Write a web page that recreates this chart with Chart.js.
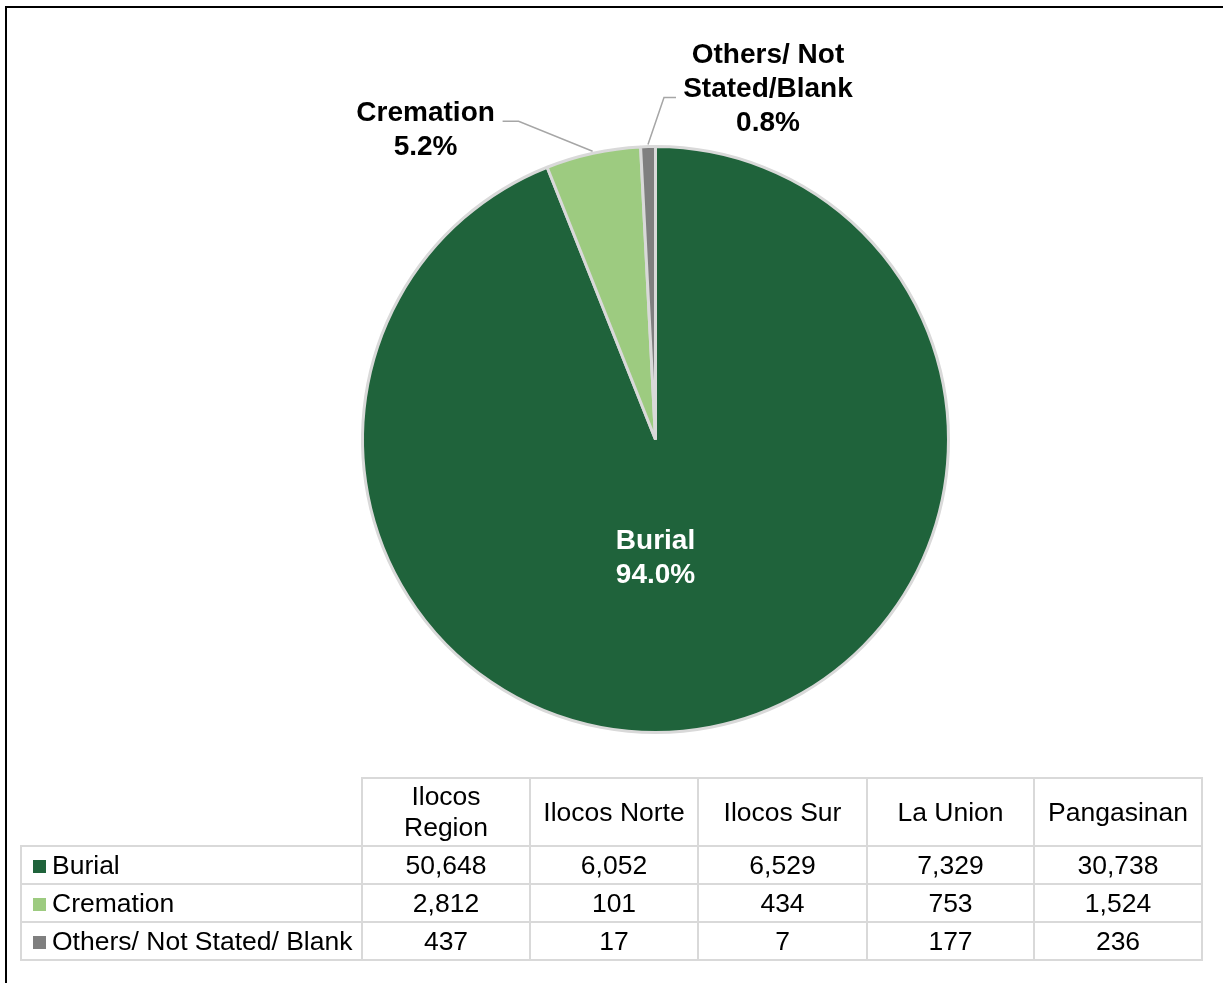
<!DOCTYPE html>
<html>
<head>
<meta charset="utf-8">
<script src="https://cdn.jsdelivr.net/npm/chart.js@4.4.1/dist/chart.umd.min.js"></script>
<style>
  html, body { margin: 0; padding: 0; background: #fff; overflow: hidden; }
  body { width: 1223px; height: 983px; position: relative; font-family: Arial, 'Liberation Sans', sans-serif; }
  #frame { position: absolute; left: 5px; top: 6px; width: 1240px; height: 1000px; border: 2.5px solid #000; box-sizing: border-box; }
  #pie { position: absolute; left: 0; top: 0; }
  #tbl { position: absolute; left: 20px; top: 777px; border-collapse: collapse; font-size: 26.5px; color: #000; }
  #tbl td, #tbl th { border: 2px solid #d9d9d9; font-weight: normal; text-align: center; padding: 0; }
  #tbl th { height: 66px; line-height: 31px; }
  #tbl td { height: 36px; line-height: 30px; }
  #tbl th.blank { border-top: none; border-left: none; }
  #tbl td.lab { text-align: left; padding-left: 11px; white-space: nowrap; }
  .sw { display: inline-block; width: 13px; height: 13px; margin-right: 6px; vertical-align: 1px; }
</style>
</head>
<body>
<div id="frame"></div>
<canvas id="pie" width="1223" height="983"></canvas>
<table id="tbl"></table>
<script>
'use strict';

const regions   = ['Ilocos\nRegion', 'Ilocos Norte', 'Ilocos Sur', 'La Union', 'Pangasinan'];
const series    = ['Burial', 'Cremation', 'Others/ Not Stated/ Blank'];
const pieLabels = ['Burial', 'Cremation', 'Others/ Not\nStated/Blank'];
const burial    = [50648, 6052, 6529, 7329, 30738];
const cremation = [2812, 101, 434, 753, 1524];
const others    = [437, 17, 7, 177, 236];
const COLORS    = ['#1f633b', '#9dcb80', '#7f7f7f'];

const rows = [burial, cremation, others];
const fmt = v => v.toLocaleString('en-US');

// ─── Data table ───────────────────────────────────────────────────────────────
function buildTable() {
    const widths = [341, 168, 168, 169, 167, 168];
    let html = '<colgroup>' + widths.map(w => `<col style="width:${w}px">`).join('') + '</colgroup>';
    html += '<tr><th class="blank"></th>' + regions.map(r => `<th>${r.replace('\n', '<br>')}</th>`).join('') + '</tr>';
    rows.forEach((vals, i) => {
        html += `<tr><td class="lab"><span class="sw" style="background:${COLORS[i]}"></span>${series[i]}</td>`;
        html += vals.map(v => `<td>${fmt(v)}</td>`).join('') + '</tr>';
    });
    const t = document.getElementById('tbl');
    t.style.tableLayout = 'fixed';
    t.style.width = widths.reduce((a, b) => a + b, 0) + 'px';
    t.innerHTML = html;
}

// ─── Pie labels with leader lines ─────────────────────────────────────────────
const pieLabelPlugin = {
    id: 'pieLabels',
    afterDatasetsDraw(chart) {
        const ctx = chart.ctx;
        const meta = chart.getDatasetMeta(0);
        const data = chart.data.datasets[0].data;
        const total = data.reduce((a, b) => a + b, 0);
        const font = "bold 28px Arial, 'Liberation Sans', sans-serif";
        const lh = 34;
        ctx.save();
        ctx.font = font;
        ctx.textAlign = 'center';
        ctx.textBaseline = 'middle';
        meta.data.forEach((arc, i) => {
            const pct = (data[i] / total * 100).toFixed(1) + '%';
            const lines = pieLabels[i].split('\n').concat(pct);
            const mid = (arc.startAngle + arc.endAngle) / 2;
            const px = arc.x + Math.cos(mid) * (arc.outerRadius + 2);
            const py = arc.y + Math.sin(mid) * (arc.outerRadius + 2);
            if (i === 0) {
                ctx.fillStyle = '#ffffff';
                lines.forEach((l, k) => ctx.fillText(l, arc.x, arc.y + 102 + k * lh));
                return;
            }
            let elbow, end, tx, ty;
            if (i === 1) {
                elbow = [px - 74, py - 30]; end = [px - 90, py - 30];
                tx = px - 167; ty = py - 38;
            } else {
                elbow = [px + 16, py - 47]; end = [px + 28, py - 47];
                tx = px + 120; ty = py - 89;
            }
            ctx.strokeStyle = '#a6a6a6';
            ctx.lineWidth = 1.5;
            ctx.beginPath();
            ctx.moveTo(px, py);
            ctx.lineTo(elbow[0], elbow[1]);
            ctx.lineTo(end[0], end[1]);
            ctx.stroke();
            ctx.fillStyle = '#000000';
            lines.forEach((l, k) => ctx.fillText(l, tx, ty + k * lh));
        });
        ctx.restore();
    }
};

function renderPie() {
    const ctx = document.getElementById('pie');
    new Chart(ctx, {
        type: 'pie',
        data: {
            labels: series,
            datasets: [{
                data: rows.map(r => r[0]),
                backgroundColor: COLORS,
                borderColor: '#d9d9d9',
                borderWidth: 3,
            }],
        },
        options: {
            responsive: false,
            animation: false,
            radius: 293,
            layout: { padding: { left: 361, right: 273, top: 145, bottom: 249 } },
            plugins: {
                legend: { display: false },
                tooltip: { enabled: false },
            }
        },
        plugins: [pieLabelPlugin]
    });
}

buildTable();
renderPie();
</script>
</body>
</html>
